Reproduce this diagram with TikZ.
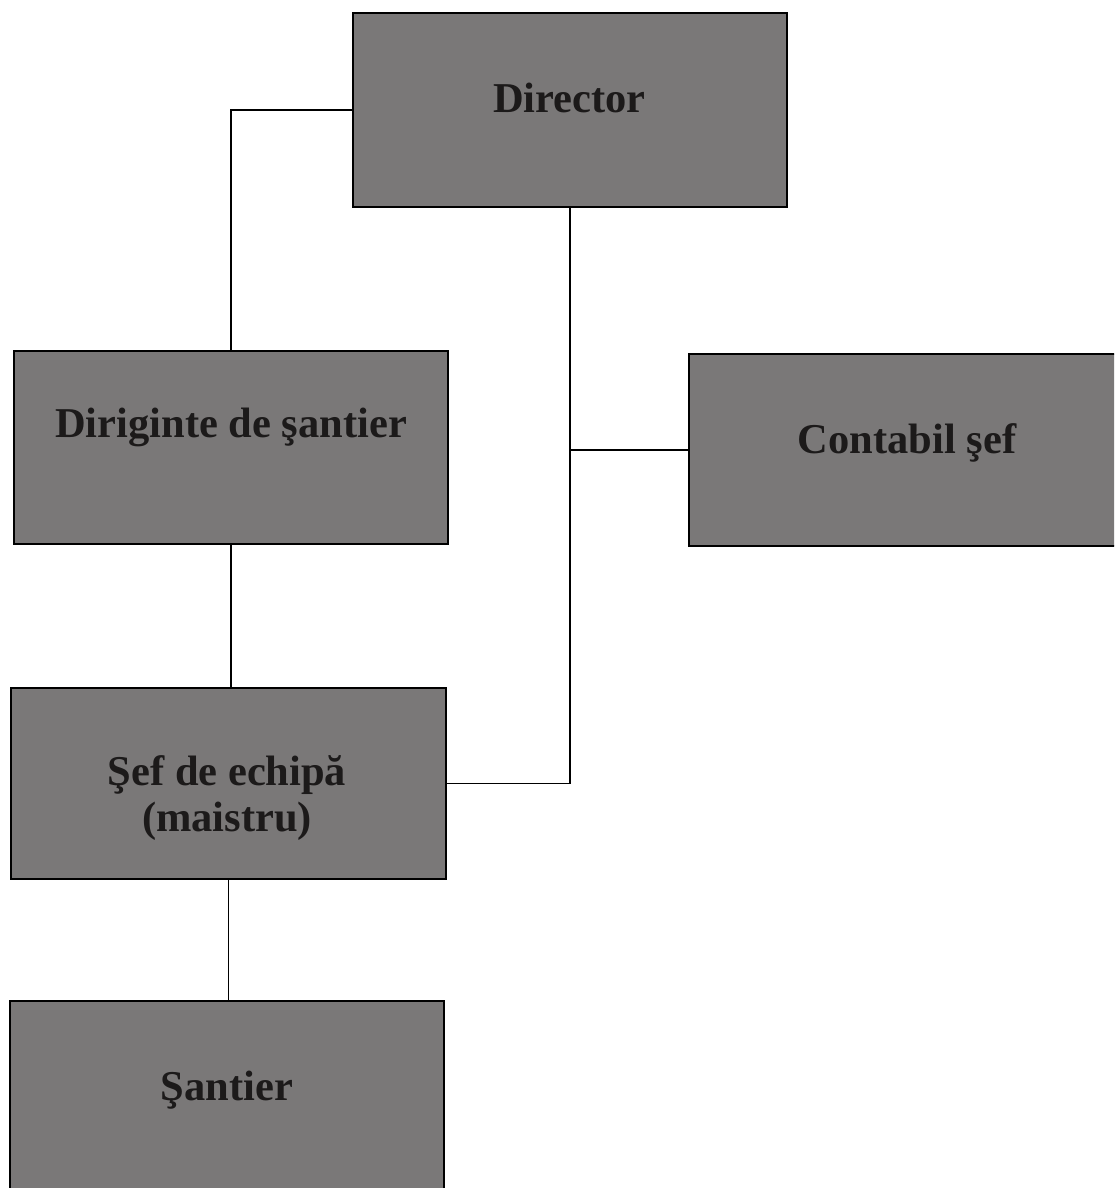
\documentclass[tikz,border=0pt]{standalone}
\usepackage{fontspec}
\setmainfont{Liberation Serif}
\definecolor{boxgray}{RGB}{122,120,120}
\definecolor{inkdark}{RGB}{28,26,26}
\tikzset{
  orgbox/.style={draw=black, line width=1.6pt, fill=boxgray, anchor=north west, inner sep=0pt},
  orgtext/.style={text=inkdark, font=\fontsize{42.5}{46.5}\selectfont\bfseries, align=center, inner sep=0pt},
  link/.style={draw=black, line width=1.5pt}
}
\begin{document}
\begin{tikzpicture}[x=1pt,y=-1pt]
\useasboundingbox (0,0) rectangle (1114,1188);
\clip (0,0) rectangle (1114,1188);
\fill[white] (0,0) rectangle (1114,1188);
% boxes
\node[orgbox, minimum width=434pt, minimum height=194pt] (dir) at (352,12) {};
\node[orgbox, minimum width=434pt, minimum height=193pt] (dirig) at (13,350) {};
\node[orgbox, minimum width=470pt, minimum height=192pt] (cont) at (688,353) {};
\node[orgbox, minimum width=435pt, minimum height=191pt] (sef) at (10,687) {};
\node[orgbox, minimum width=434pt, minimum height=220pt] (san) at (9,1000) {};
% texts
\node[orgtext, anchor=base] (tdir) at (569.5,113) {Director};
\node[orgtext, anchor=base] (tdirig) at (231,437.5) {Diriginte de şantier};
\node[orgtext, anchor=base] (tcont) at (907,453) {Contabil şef};
\node[orgtext, anchor=base] (tsef1) at (227,785) {Şef de echipă};
\node[orgtext, anchor=base] (tsef2) at (227,831) {(maistru)};
\node[orgtext, anchor=base] (tsan) at (227,1100) {Şantier};
% connectors
\draw[link] (dir.west) -| (dirig.north);
\draw[link] (dir.south) |- (sef.east);
\coordinate (junc) at (dir.south |- cont.west);
\draw[link] (junc) -- (cont.west);
\draw[link] (dirig.south) -- (dirig.south |- sef.north);
\draw[link] (sef.south) -- (sef.south |- san.north);
\end{tikzpicture}
\end{document}
